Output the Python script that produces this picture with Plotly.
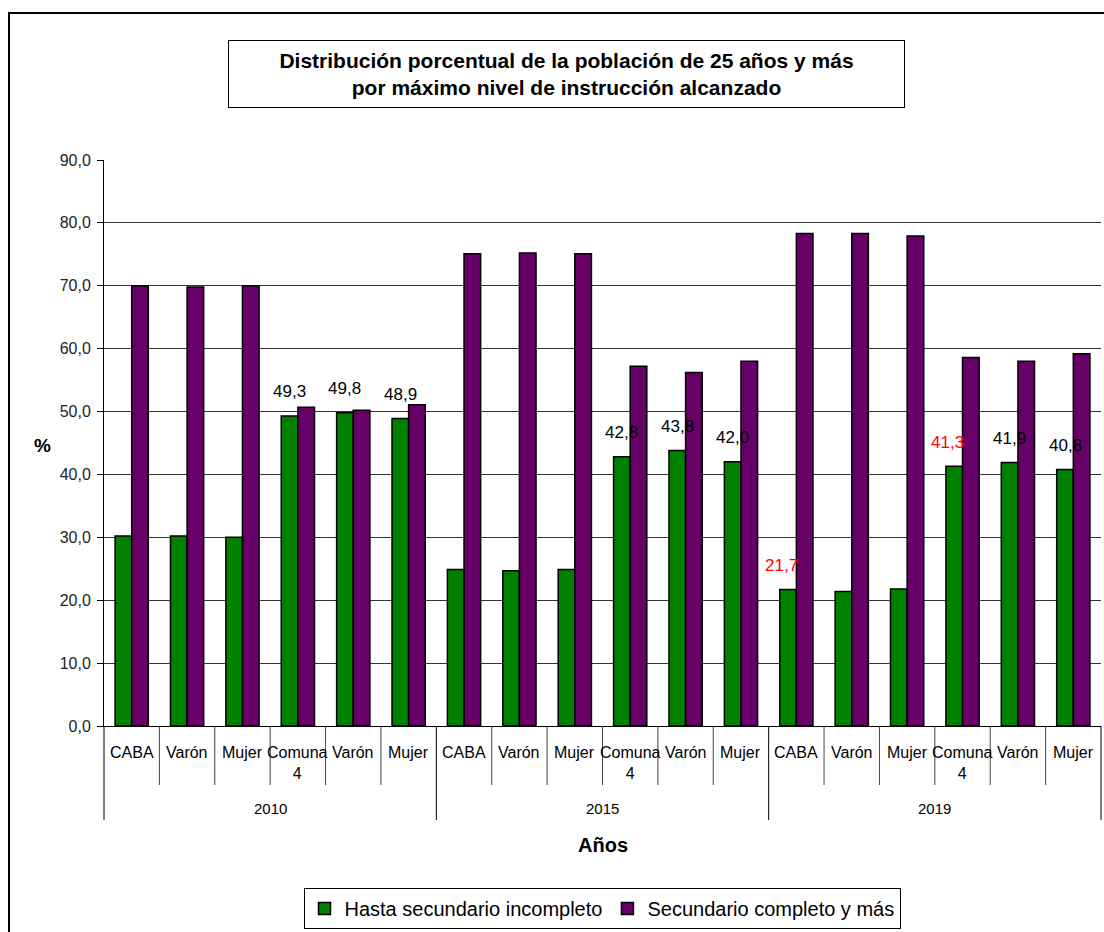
import plotly.graph_objects as go

# ---------------- data ----------------
years = ["2010", "2015", "2019"]
groups = ["CABA", "Varón", "Mujer", "Comuna<br>4", "Varón", "Mujer"]
hasta_sec_incompleto = [30.2, 30.2, 30.0, 49.3, 49.8, 48.9,
                        24.9, 24.7, 24.9, 42.8, 43.8, 42.0,
                        21.7, 21.4, 21.8, 41.3, 41.9, 40.8]
sec_completo_y_mas = [70.0, 69.8, 70.0, 50.7, 50.2, 51.1,
                      75.1, 75.2, 75.1, 57.2, 56.2, 58.0,
                      78.3, 78.3, 77.9, 58.6, 58.0, 59.2]
labelled_idx = [3, 4, 5, 9, 10, 11, 12, 15, 16, 17]
red_label_idx = [12, 15]
y_ticks = [0, 10, 20, 30, 40, 50, 60, 70, 80, 90]

series_names = ["Hasta secundario incompleto", "Secundario completo y más"]
colors = ["#008000", "#660066"]

# ---------------- layout geometry ----------------
W, H = 1104, 932
L, R, T, B = 104, 3, 160, 206
PW, PH = W - L - R, H - T - B
BASE_Y = H - B

def px_x(x):
    return (x - L) / PW

def px_y(y):
    return (BASE_Y - y) / PH

FONT = "Liberation Sans, Arial, sans-serif"
BARGAP = 0.4

n = len(years) * len(groups)
xs = list(range(n))
x_range = [-0.5, n - 0.5]
cat_labels = [g for _ in years for g in groups]

def fmt(v):
    return f"{v:.1f}".replace(".", ",")

fig = go.Figure()
for name, vals, col in zip(series_names, [hasta_sec_incompleto, sec_completo_y_mas], colors):
    fig.add_trace(go.Bar(
        x=xs, y=vals, name=name,
        marker=dict(color=col, line=dict(color="black", width=1.5)),
        hoverinfo="y",
    ))

annotations = []
# category labels
for i, lab in zip(xs, cat_labels):
    annotations.append(dict(x=i, y=0, xref="x", yref="y", text=lab, showarrow=False,
                            yanchor="top", yshift=-16,
                            font=dict(family=FONT, size=16, color="black")))
# year labels
ng = len(groups)
for k, yr in enumerate(years):
    cx = (xs[k * ng] + xs[k * ng + ng - 1]) / 2
    annotations.append(dict(x=cx, y=0, xref="x", yref="y", text=yr, showarrow=False,
                            yanchor="middle", yshift=-82,
                            font=dict(family=FONT, size=15, color="black")))
# data labels on the first series
green_off = -(1 - BARGAP) / 4
for i in labelled_idx:
    red = i in red_label_idx
    annotations.append(dict(x=xs[i] + green_off, y=hasta_sec_incompleto[i], xref="x", yref="y",
                            text=fmt(hasta_sec_incompleto[i]), showarrow=False,
                            yanchor="middle", yshift=24, xshift=-7 if red else 0,
                            font=dict(family=FONT, size=17, color="#ff0000" if red else "black")))
# title box
annotations.append(dict(x=px_x(566.5), y=px_y(74), xref="paper", yref="paper",
                        text="<b>Distribución porcentual de la población de 25 años y más<br>por máximo nivel de instrucción alcanzado</b>",
                        showarrow=False, xanchor="center", yanchor="middle",
                        width=673, height=64, bgcolor="white",
                        bordercolor="black", borderwidth=1, borderpad=1,
                        font=dict(family=FONT, size=21, color="black")))
# axis titles
annotations.append(dict(x=px_x(42), y=px_y(445), xref="paper", yref="paper", text="<b>%</b>",
                        showarrow=False, xanchor="center", yanchor="middle",
                        font=dict(family=FONT, size=19, color="black")))
annotations.append(dict(x=px_x(603), y=px_y(845), xref="paper", yref="paper", text="<b>Años</b>",
                        showarrow=False, xanchor="center", yanchor="middle",
                        font=dict(family=FONT, size=20, color="black")))

shapes = []
# category divider lines under the axis
for k in range(n + 1):
    xv = k - 0.5
    long = (k % ng == 0)
    shapes.append(dict(type="line", xref="paper", yref="paper",
                       x0=(xv - x_range[0]) / (x_range[1] - x_range[0]),
                       x1=(xv - x_range[0]) / (x_range[1] - x_range[0]),
                       y0=0, y1=px_y(820 if long else 785),
                       line=dict(color="black" if long else "#444", width=1)))
# outer chart border
shapes.append(dict(type="rect", xref="paper", yref="paper",
                   x0=px_x(9), x1=px_x(1112), y0=px_y(945), y1=px_y(13),
                   line=dict(color="black", width=2), fillcolor="rgba(0,0,0,0)", layer="below"))

fig.update_layout(
    width=W, height=H,
    margin=dict(l=L, r=R, t=T, b=B, pad=0),
    paper_bgcolor="white", plot_bgcolor="white",
    barmode="group", bargap=BARGAP, bargroupgap=0,
    font=dict(family=FONT, color="black"),
    showlegend=True,
    legend=dict(orientation="h", x=px_x(602), xanchor="center", y=px_y(888), yanchor="top",
                bordercolor="black", borderwidth=1, bgcolor="white",
                font=dict(family=FONT, size=20, color="black"),
                itemwidth=30, traceorder="normal"),
    xaxis=dict(range=x_range, showticklabels=False, ticks="", showgrid=False,
               showline=True, linecolor="black", linewidth=1, zeroline=False, fixedrange=True),
    yaxis=dict(range=[0, 90], tickvals=y_ticks, ticktext=[fmt(v) for v in y_ticks],
               ticks="outside", ticklen=6, tickcolor="black", showline=True, linecolor="black",
               linewidth=1, showgrid=True, gridcolor="#333", gridwidth=1, zeroline=False,
               tickfont=dict(family=FONT, size=16, color="#222"), ticklabelstandoff=3,
               fixedrange=True),
    annotations=annotations,
    shapes=shapes,
)

fig.write_html("out.html", config={"displayModeBar": False},
               post_script="document.body.style.margin='0';document.body.style.padding='0';")
